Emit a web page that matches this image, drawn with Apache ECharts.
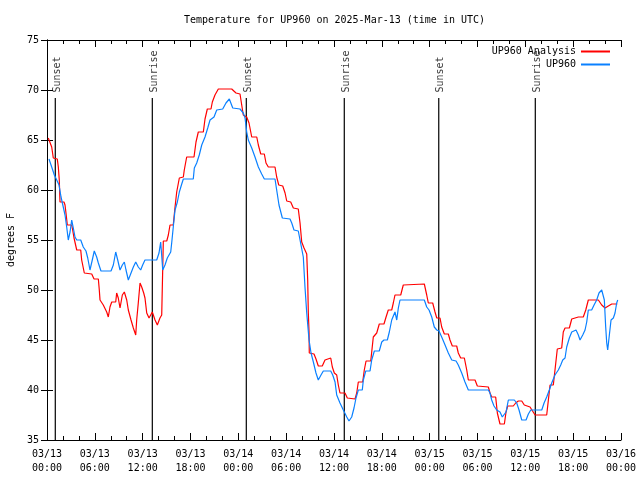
<!DOCTYPE html>
<html>
<head>
<meta charset="utf-8">
<script src="https://cdn.jsdelivr.net/npm/echarts@6/dist/echarts.min.js"></script>
<style>html,body{margin:0;padding:0;background:#fff}#c{width:640px;height:480px}</style>
</head>
<body>
<div id="c"></div>
<script>
// hours since 2025-03-13 00:00 UTC
const analysisHours = [0.16,0.38,0.59,0.79,1.29,1.42,1.54,1.63,2.13,2.26,2.38,2.55,3.10,3.22,3.39,3.73,4.23,4.35,4.68,5.61,5.90,6.44,6.56,6.65,7.06,7.49,7.69,7.90,8.12,8.62,8.74,8.94,9.16,9.45,9.70,10.00,10.20,10.54,10.83,11.13,11.25,11.45,11.67,11.88,12.13,12.29,12.51,12.80,13.21,13.55,13.84,14.17,14.39,14.52,14.59,15.02,15.22,15.43,15.84,16.06,16.27,16.60,17.10,17.22,17.52,18.44,18.69,18.98,19.61,19.82,20.11,20.57,20.74,21.07,21.49,22.62,23.17,23.71,24.21,24.42,24.62,25.05,25.34,25.68,26.31,26.51,26.81,27.26,27.47,27.76,28.60,28.81,29.07,29.57,29.86,30.07,30.57,30.90,31.52,31.74,31.95,32.24,32.58,32.70,32.78,32.87,32.90,33.49,33.74,34.03,34.53,34.87,35.09,35.59,35.79,36.04,36.34,36.54,36.75,37.38,37.67,38.64,38.85,39.05,39.60,39.80,40.02,40.61,40.73,40.93,41.36,41.68,42.27,42.53,42.81,43.24,43.44,43.65,44.37,44.69,47.33,47.63,47.83,48.38,48.67,48.89,49.30,49.51,49.84,50.34,50.55,50.84,51.39,51.59,51.89,52.35,52.65,52.85,53.69,53.98,55.36,55.57,55.78,56.28,56.49,56.82,57.37,57.58,57.79,58.49,58.79,59.12,59.55,59.87,60.59,61.22,62.68,62.89,63.10,63.51,63.72,64.01,64.56,64.76,64.98,65.52,65.82,66.65,67.27,67.58,67.90,69.16,69.58,70.00,70.41,70.84,71.54];
const analysisTemps = [65.2,65.0,64.3,63.2,63.1,62.3,61.0,58.8,58.8,58.5,57.7,56.5,56.5,56.0,55.2,54.0,54.0,53.0,51.7,51.6,51.1,51.1,50.0,49.0,48.5,47.8,47.3,48.3,48.8,48.8,49.7,49.2,48.2,49.5,49.8,49.0,48.0,47.0,46.2,45.5,47.0,48.7,50.7,50.3,49.7,49.2,47.7,47.2,47.8,47.0,46.5,47.2,47.5,52.3,54.9,54.9,55.5,56.5,56.5,58.3,59.8,61.2,61.3,62.0,63.3,63.3,64.8,65.8,65.8,67.1,68.1,68.1,68.8,69.5,70.1,70.1,70.1,69.7,69.6,69.5,67.5,67.3,66.7,65.3,65.3,64.5,63.6,63.6,62.7,62.3,62.3,61.3,60.5,60.4,59.7,58.9,58.8,58.2,58.1,56.7,54.8,54.2,53.6,51.0,47.7,45.8,43.7,43.6,43.1,42.4,42.4,43.0,43.2,43.2,42.3,41.7,41.5,40.5,39.7,39.7,39.2,39.1,39.7,40.8,40.8,42.0,42.9,42.9,43.8,45.3,45.7,46.6,46.6,47.3,48.0,48.0,48.7,49.5,49.5,50.5,50.6,49.5,48.7,48.7,47.8,47.2,47.2,46.3,45.6,45.6,45.0,44.4,44.4,43.7,43.2,43.2,42.0,41.0,41.0,40.4,40.3,39.7,39.3,39.3,37.7,36.6,36.6,37.8,38.4,38.4,38.7,38.9,38.9,38.5,38.3,37.5,37.5,39.0,40.5,40.5,42.0,44.1,44.2,45.8,46.2,46.2,47.1,47.3,47.3,48.0,49.0,49.0,48.5,48.2,48.4,48.6,48.6];
const stationHours = [0.25,0.59,0.92,1.22,1.51,1.76,2.04,2.26,2.47,2.67,2.89,3.10,3.30,3.51,3.73,4.23,4.55,4.89,5.11,5.39,5.68,5.93,6.23,6.44,6.77,8.03,8.32,8.62,8.87,9.16,9.45,9.70,9.91,10.20,10.54,10.83,11.13,11.45,11.75,12.00,12.29,13.76,14.05,14.26,14.52,14.80,15.09,15.52,15.64,15.84,16.06,16.35,16.60,16.90,17.10,18.35,18.48,18.78,19.10,19.41,19.82,20.16,20.45,20.95,21.29,22.04,22.45,22.87,23.30,24.21,24.62,24.84,25.05,25.25,25.68,26.09,26.51,26.93,27.26,28.60,28.81,29.10,29.52,30.48,30.70,30.98,31.52,31.74,32.15,32.36,32.58,32.87,33.12,33.41,33.74,34.03,34.37,34.66,35.59,35.84,36.13,36.34,36.75,37.17,37.60,37.88,38.22,38.51,38.76,39.05,39.55,39.68,39.98,40.52,40.73,41.06,41.68,41.99,42.27,42.69,42.94,43.24,43.65,43.87,44.07,44.28,47.33,47.63,47.92,48.26,48.58,48.89,49.17,49.51,49.93,50.34,50.77,51.31,51.59,52.02,52.43,52.85,55.36,55.57,55.78,56.07,56.41,56.82,57.11,57.32,57.58,57.87,58.62,58.92,59.21,59.55,60.09,60.38,60.68,62.06,62.35,62.68,63.01,63.31,63.72,64.14,64.44,64.69,64.98,65.19,65.52,65.82,66.02,66.36,66.65,66.86,67.20,67.49,67.70,67.90,68.32,68.62,68.95,69.24,69.58,69.78,69.91,70.08,70.21,70.33,70.54,70.75,71.04,71.25,71.46,71.59];
const stationTemps = [63.1,62.3,61.5,61.0,60.5,59.3,58.3,57.5,56.3,55.0,55.8,57.0,56.2,55.3,55.0,55.0,54.3,53.9,53.2,52.0,53.0,53.9,53.3,52.7,51.9,51.9,52.5,53.8,53.0,52.0,52.5,52.8,52.0,51.0,51.7,52.3,52.8,52.3,52.0,52.5,53.0,53.0,53.7,54.8,52.0,52.5,53.2,53.8,54.7,56.3,58.0,58.8,59.8,60.6,61.1,61.1,62.2,62.7,63.5,64.5,65.3,66.2,67.0,67.3,68.0,68.1,68.7,69.1,68.2,68.1,67.7,67.2,65.8,65.0,64.2,63.3,62.3,61.6,61.1,61.1,60.0,58.5,57.2,57.1,56.7,56.0,55.9,55.0,53.3,50.3,47.7,45.0,43.7,42.8,41.7,41.0,41.5,41.9,41.9,41.5,40.8,39.5,38.7,38.0,37.3,36.9,37.3,38.2,39.2,40.0,40.0,41.0,41.9,41.9,43.0,43.9,43.9,44.8,45.0,45.0,45.8,47.0,47.8,47.0,48.2,49.0,49.0,48.3,48.0,47.3,46.3,46.0,45.9,45.3,44.5,43.7,43.0,42.9,42.5,41.7,40.8,40.0,40.0,39.7,39.0,38.4,38.0,37.8,37.3,37.1,37.8,39.0,39.0,38.7,38.0,37.0,37.0,37.6,38.0,38.0,38.7,39.3,40.0,40.7,41.5,42.0,42.5,43.0,43.2,44.3,45.2,45.8,46.0,46.0,45.5,45.0,45.5,46.0,46.8,48.0,48.0,48.5,49.0,49.7,50.0,49.9,49.0,46.3,44.7,44.0,45.5,47.0,47.2,47.7,48.7,49.0];
const eventNames = ['Sunset','Sunrise','Sunset','Sunrise','Sunset','Sunrise'];
const eventHours = [1.04,13.21,25.0,37.29,49.14,61.25];
const tickDates = ['03/13','03/13','03/13','03/13','03/14','03/14','03/14','03/14','03/15','03/15','03/15','03/15','03/16'];
const tickTimes = ['00:00','06:00','12:00','18:00','00:00','06:00','12:00','18:00','00:00','06:00','12:00','18:00','00:00'];
const seriesNames = ['UP960 Analysis','UP960'];

const FONT = 'DejaVu Sans Mono';
const zip = (a, b) => a.map((x, i) => [x, b[i]]);

const series = [
  { name: seriesNames[0], type: 'line', data: zip(analysisHours, analysisTemps), showSymbol: false,
    lineStyle: { color: '#ff0000', width: 1.2 }, itemStyle: { color: '#ff0000' }, z: 3 },
  { name: seriesNames[1], type: 'line', data: zip(stationHours, stationTemps), showSymbol: false,
    lineStyle: { color: '#0a80ff', width: 1.2 }, itemStyle: { color: '#0a80ff' }, z: 4 }
];
eventHours.forEach(h => {
  series.push({ type: 'line', data: [[h, 35], [h, 69.2]], showSymbol: false, silent: true,
    lineStyle: { color: '#000', width: 1.2 }, z: 2 });
});
series.push({
  type: 'scatter', symbolSize: 0, silent: true, z: 5,
  data: eventHours.map((h, i) => ({ value: [h, 69.75], name: eventNames[i] })),
  label: { show: true, formatter: '{b}', rotate: 90, position: 'inside', align: 'left',
    verticalAlign: 'middle', offset: [0, 2], fontFamily: FONT, fontSize: 10, color: '#000' }
});

const axisCommonX = { type: 'value', min: 0, max: 72, interval: 6,
  axisLine: { show: true, lineStyle: { color: '#000', width: 1 } },
  axisTick: { show: true, inside: true, length: 7, lineStyle: { color: '#000' } },
  minorTick: { show: true, splitNumber: 3, length: 4, lineStyle: { color: '#000' } },
  splitLine: { show: false }, minorSplitLine: { show: false } };
const axisCommonY = { type: 'value', min: 35, max: 75, interval: 5,
  axisLine: { show: true, lineStyle: { color: '#000', width: 1 } },
  axisTick: { show: true, inside: true, length: 6, lineStyle: { color: '#000' } },
  splitLine: { show: false } };

const chart = echarts.init(document.getElementById('c'), null, { renderer: 'canvas' });
chart.setOption({
  animation: false,
  backgroundColor: '#fff',
  title: { text: 'Temperature for UP960 on 2025-Mar-13 (time in UTC)', left: 179, top: 10,
    textStyle: { fontFamily: FONT, fontSize: 10, fontWeight: 'normal', color: '#000' } },
  legend: { data: seriesNames, orient: 'vertical', right: 25, top: 41, align: 'right',
    itemWidth: 29, itemHeight: 2, itemGap: 2, icon: 'rect',
    textStyle: { fontFamily: FONT, fontSize: 10, color: '#000', lineHeight: 11 } },
  grid: { left: 47, right: 19, top: 40, bottom: 40, containLabel: false, outerBoundsMode: 'none' },
  xAxis: [
    Object.assign({}, axisCommonX, { position: 'bottom',
      axisLabel: { fontFamily: FONT, fontSize: 10, color: '#000', margin: 7, lineHeight: 14,
        formatter: v => { const i = Math.round(v / 6); return tickDates[i] + '\n' + tickTimes[i]; } } }),
    Object.assign({}, axisCommonX, { position: 'top', axisLabel: { show: false } })
  ],
  yAxis: [
    Object.assign({}, axisCommonY, { position: 'left', name: 'degrees F', nameLocation: 'middle', nameGap: 31,
      nameTextStyle: { fontFamily: FONT, fontSize: 10, color: '#000' },
      axisLabel: { fontFamily: FONT, fontSize: 10, color: '#000', margin: 8 } }),
    Object.assign({}, axisCommonY, { position: 'right', axisLabel: { show: false } })
  ],
  series: series
});
</script>
</body>
</html>
